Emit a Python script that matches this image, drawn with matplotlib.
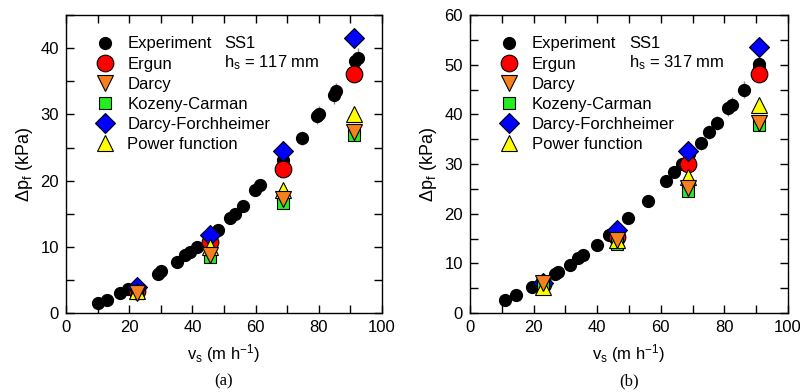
import matplotlib
matplotlib.use('Agg')
import matplotlib.pyplot as plt
from matplotlib.lines import Line2D

plt.rcParams['font.family'] = ['Liberation Sans', 'DejaVu Sans']
plt.rcParams['mathtext.default'] = 'regular'

# panel (a): h_s = 117 mm
exp_v_a = [10.2, 12.9, 17.1, 19.7, 22.5, 29.2, 30.2, 35.0, 37.7, 39.2, 41.4, 45.5,
           48.2, 51.9, 53.5, 55.9, 59.8, 61.4, 68.6, 74.6, 79.3, 80.0, 84.8, 85.3,
           91.5, 92.5]
exp_p_a = [1.55, 1.96, 2.97, 3.6, 3.9, 5.9, 6.3, 7.75, 8.76, 9.27, 10.0, 11.2,
           12.5, 14.3, 15.0, 16.2, 18.6, 19.3, 23.1, 26.4, 29.7, 30.0, 32.9, 33.5,
           38.0, 38.5]
mod_v_a = [22.6, 45.6, 68.6, 91.2]
ergun_a = [3.4, 10.8, 21.7, 36.1]
darcy_a = [3.0, 8.8, 17.2, 27.4]
kc_a = [3.0, 8.4, 16.6, 26.9]
df_a = [3.9, 11.8, 24.4, 41.5]
power_a = [3.4, 10.0, 18.6, 30.0]

# panel (b): h_s = 317 mm
exp_v_b = [11.0, 14.5, 19.4, 23.0, 26.7, 27.7, 31.4, 34.1, 35.5, 40.0, 43.8, 46.0,
           49.6, 55.9, 61.6, 64.3, 66.6, 69.0, 72.5, 75.3, 77.6, 81.2, 82.3, 86.2,
           90.8, 91.0]
exp_p_b = [2.6, 3.6, 5.3, 5.8, 7.85, 8.3, 9.66, 11.0, 11.7, 13.7, 15.7, 16.7,
           19.1, 22.5, 26.6, 28.5, 30.1, 32.0, 34.2, 36.5, 38.3, 41.2, 41.9, 45.0,
           49.3, 50.1]
mod_v_b = [23.1, 46.1, 68.5, 91.0]
ergun_b = [5.9, 15.4, 30.0, 48.1]
darcy_b = [6.0, 14.7, 25.2, 38.2]
kc_b = [5.5, 13.8, 24.6, 37.8]
df_b = [6.1, 16.8, 32.7, 53.6]
power_b = [5.2, 14.8, 27.3, 41.9]

# name, marker, colour, size, zorder
models = [
    ('Ergun', 'o', '#ff0000', 12, 3),
    ('Darcy', 'v', '#f77f1e', 12, 6),
    ('Kozeny-Carman', 's', '#22ee22', 9, 4),
    ('Darcy-Forchheimer', 'D', '#0000ff', 10.5, 3),
    ('Power function', '^', '#ffff00', 12, 5),
]


def draw_panel(ax, ev, ep, mv, series, ymax, h_text, tag):
    ax.errorbar(ev, ep, xerr=0.8, yerr=[p * 0.03 + 0.3 for p in ep], fmt='o',
                color='black', ms=8.5, ecolor='#888888', elinewidth=1,
                capsize=0, zorder=2)
    handles = [Line2D([], [], ls='none', marker='o', color='black', ms=8.5,
                      label='Experiment')]
    for (name, mk, col, size, z), vals in zip(models, series):
        ax.plot(mv, vals, ls='none', marker=mk, ms=size, mfc=col, mec='black',
                mew=0.8, zorder=z)
        handles.append(Line2D([], [], ls='none', marker=mk, ms=size, mfc=col,
                              mec='black', mew=0.8, label=name))
    ax.legend(handles=handles, loc='upper left', bbox_to_anchor=(0.06, 0.962),
              frameon=False, fontsize=12, labelspacing=0.31, handletextpad=0.75,
              handlelength=1.2, borderaxespad=0.2)
    ax.text(0.5, 0.906, 'SS1', transform=ax.transAxes, fontsize=12, va='center')
    ax.text(0.5, 0.839, h_text, transform=ax.transAxes, fontsize=12, va='center')

    ax.set_xlim(0, 100)
    ax.set_ylim(0, ymax)
    ax.set_xticks(range(0, 101, 20))
    ax.set_xticks(range(0, 101, 10), minor=True)
    ax.set_yticks(range(0, ymax + 1, 10))
    ax.set_yticks(range(0, ymax + 1, 5), minor=True)
    ax.tick_params(which='both', direction='in', top=True, right=True,
                   length=6, width=1, labelsize=12, pad=5)
    for s in ax.spines.values():
        s.set_linewidth(1)
    ax.set_xlabel('v$_s$ (m h$^{-1}$)', fontsize=12, labelpad=5)
    ax.set_ylabel('Δp$_f$ (kPa)', fontsize=13, labelpad=4)
    ax.text(0.5, -0.228, tag, transform=ax.transAxes, ha='center', va='center',
            fontsize=12, family=['Liberation Serif', 'DejaVu Serif'])


fig = plt.figure(figsize=(8, 3.92), dpi=100)
ax1 = fig.add_axes([0.0825, 0.2015, 0.395, 0.760])
ax2 = fig.add_axes([0.5875, 0.2015, 0.3975, 0.760])

draw_panel(ax1, exp_v_a, exp_p_a, mod_v_a,
           [ergun_a, darcy_a, kc_a, df_a, power_a], 45,
           'h$_s$ = 117 mm', '(a)')
draw_panel(ax2, exp_v_b, exp_p_b, mod_v_b,
           [ergun_b, darcy_b, kc_b, df_b, power_b], 60,
           'h$_s$ = 317 mm', '(b)')

fig.savefig('out.png', dpi=100)
